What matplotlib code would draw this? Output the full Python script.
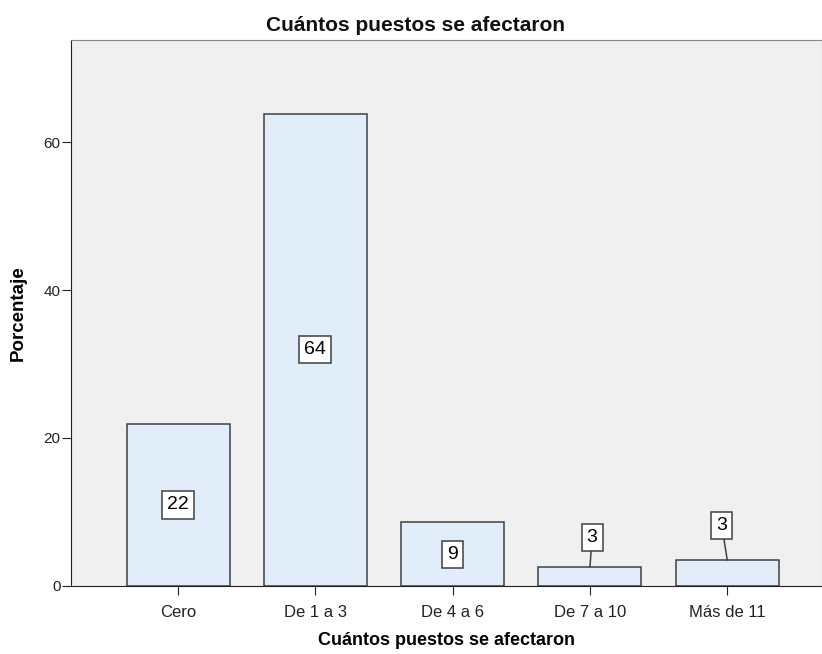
import numpy as np
import matplotlib.pyplot as plt

plt.rcParams['font.family'] = ['Liberation Sans', 'DejaVu Sans']

categorias = ['Cero', 'De 1 a 3', 'De 4 a 6', 'De 7 a 10', 'Más de 11']
porcentaje = [21.9, 63.8, 8.6, 2.6, 3.5]
etiquetas = ['22', '64', '9', '3', '3']

fig = plt.figure(figsize=(8.22, 6.54), dpi=100)
ax = fig.add_axes([0.0864, 0.104, 0.9136, 0.835])
ax.set_facecolor('#F0F0F0')

x = np.arange(len(categorias))
ax.bar(x, porcentaje, width=0.75, color='#E1EEFA', edgecolor='#404040', linewidth=1.1, zorder=2)

caja = dict(boxstyle='square,pad=0.26', fc='white', ec='#404040', lw=1.1)
for i, (v, t) in enumerate(zip(porcentaje, etiquetas)):
    if v > 6:
        ax.text(x[i], v / 2, t, ha='center', va='center', fontsize=14, bbox=caja, zorder=4)
    else:
        # etiqueta fuera de la barra con linea guia
        dx = 1.5 if i == 3 else -4
        dy = 21 if i == 3 else 25
        ax.annotate(t, xy=(x[i], v), xytext=(dx, dy), textcoords='offset points',
                    ha='center', va='center', fontsize=14, bbox=caja, zorder=4,
                    arrowprops=dict(arrowstyle='-', color='#404040', lw=1.1, shrinkA=0, shrinkB=0))

ax.set_xlim(-0.78, 4.69)
ax.set_ylim(0, 73.8)
ax.set_yticks([0, 20, 40, 60])
ax.set_xticks(x)
ax.set_xticklabels(categorias, fontsize=12, color='#222222')
ax.tick_params(axis='y', labelsize=11, length=6.5, colors='#222222', pad=1)
ax.tick_params(axis='x', length=6.5, colors='#222222', pad=7)

for s in ['left', 'bottom']:
    ax.spines[s].set_color('#222222')
for s in ['top', 'right']:
    ax.spines[s].set_color('#888888')

ax.set_ylabel('Porcentaje', fontsize=13.5, fontweight='bold', labelpad=12)
ax.set_xlabel('Cuántos puestos se afectaron', fontsize=13, fontweight='bold', labelpad=9)
fig.text(0.506, (654 - 31) / 654, 'Cuántos puestos se afectaron', ha='center', va='baseline',
         fontsize=15, fontweight='bold', color='#111111')

fig.savefig('out.png', dpi=100)
